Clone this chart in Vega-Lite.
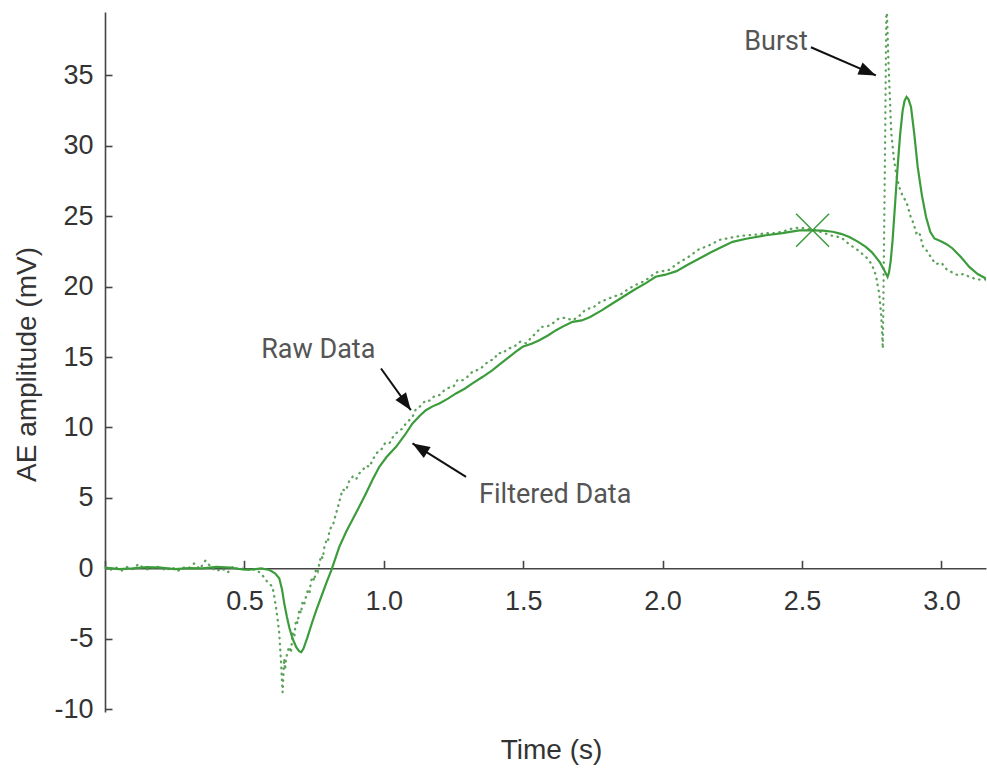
{
  "$schema": "https://vega.github.io/schema/vega-lite/v6.json",
  "width": 881,
  "height": 700,
  "autosize": {"type": "none"},
  "padding": {"left": 105, "top": 12, "right": 1, "bottom": 56},
  "config": {"view": {"stroke": null}, "axis": {"grid": false}},
  "datasets": {
    "filtered": [
      {"t":0.00,"v":0.05},{"t":0.05,"v":-0.05},{"t":0.10,"v":0.00},{"t":0.15,"v":0.08},{"t":0.20,"v":0.05},{"t":0.25,"v":-0.05},{"t":0.30,"v":0.02},{"t":0.35,"v":0.00},{"t":0.40,"v":0.10},{"t":0.45,"v":0.05},{"t":0.50,"v":-0.10},{"t":0.53,"v":-0.08},{"t":0.56,"v":0.00},{"t":0.59,"v":-0.12},{"t":0.61,"v":-0.35},{"t":0.625,"v":-0.7},{"t":0.635,"v":-1.5},{"t":0.643,"v":-2.5},{"t":0.652,"v":-3.4},{"t":0.661,"v":-4.2},{"t":0.673,"v":-5.0},{"t":0.686,"v":-5.6},{"t":0.697,"v":-5.9},{"t":0.704,"v":-5.95},{"t":0.712,"v":-5.7},{"t":0.726,"v":-4.9},{"t":0.742,"v":-3.9},{"t":0.758,"v":-2.96},{"t":0.776,"v":-2.0},{"t":0.794,"v":-1.04},{"t":0.812,"v":-0.12},{"t":0.840,"v":1.51},{"t":0.865,"v":2.6},{"t":0.887,"v":3.43},{"t":0.910,"v":4.3},{"t":0.936,"v":5.32},{"t":0.960,"v":6.3},{"t":0.984,"v":7.21},{"t":1.010,"v":7.9},{"t":1.044,"v":8.63},{"t":1.075,"v":9.45},{"t":1.103,"v":10.29},{"t":1.130,"v":10.85},{"t":1.151,"v":11.23},{"t":1.175,"v":11.5},{"t":1.199,"v":11.71},{"t":1.230,"v":12.05},{"t":1.259,"v":12.42},{"t":1.290,"v":12.75},{"t":1.318,"v":13.13},{"t":1.355,"v":13.6},{"t":1.390,"v":14.07},{"t":1.420,"v":14.55},{"t":1.450,"v":15.02},{"t":1.475,"v":15.4},{"t":1.498,"v":15.73},{"t":1.530,"v":15.95},{"t":1.558,"v":16.2},{"t":1.590,"v":16.55},{"t":1.618,"v":16.91},{"t":1.650,"v":17.25},{"t":1.677,"v":17.5},{"t":1.710,"v":17.6},{"t":1.740,"v":17.85},{"t":1.780,"v":18.3},{"t":1.820,"v":18.8},{"t":1.860,"v":19.3},{"t":1.900,"v":19.8},{"t":1.940,"v":20.25},{"t":1.975,"v":20.7},{"t":2.010,"v":20.85},{"t":2.050,"v":21.1},{"t":2.090,"v":21.55},{"t":2.132,"v":22.0},{"t":2.170,"v":22.4},{"t":2.210,"v":22.8},{"t":2.251,"v":23.18},{"t":2.300,"v":23.4},{"t":2.371,"v":23.65},{"t":2.430,"v":23.8},{"t":2.490,"v":24.0},{"t":2.538,"v":24.0},{"t":2.575,"v":23.98},{"t":2.610,"v":23.9},{"t":2.640,"v":23.75},{"t":2.670,"v":23.53},{"t":2.700,"v":23.2},{"t":2.729,"v":22.82},{"t":2.750,"v":22.45},{"t":2.765,"v":22.1},{"t":2.780,"v":21.7},{"t":2.795,"v":21.17},{"t":2.802,"v":20.9},{"t":2.807,"v":20.7},{"t":2.812,"v":21.0},{"t":2.818,"v":21.8},{"t":2.825,"v":23.3},{"t":2.834,"v":25.9},{"t":2.843,"v":28.5},{"t":2.852,"v":30.8},{"t":2.861,"v":32.5},{"t":2.868,"v":33.2},{"t":2.875,"v":33.47},{"t":2.882,"v":33.3},{"t":2.891,"v":32.76},{"t":2.903,"v":30.8},{"t":2.915,"v":28.5},{"t":2.930,"v":26.5},{"t":2.945,"v":24.95},{"t":2.960,"v":23.9},{"t":2.975,"v":23.42},{"t":3.000,"v":23.2},{"t":3.020,"v":23.0},{"t":3.040,"v":22.71},{"t":3.070,"v":22.1},{"t":3.100,"v":21.4},{"t":3.130,"v":20.9},{"t":3.160,"v":20.58}
    ],
    "raw": [
      {"t":0.00,"v":0.0},{"t":0.02,"v":-0.1},{"t":0.04,"v":0.05},{"t":0.06,"v":-0.15},{"t":0.08,"v":0.1},{"t":0.10,"v":-0.05},{"t":0.12,"v":0.3},{"t":0.14,"v":0.0},{"t":0.16,"v":-0.1},{"t":0.18,"v":0.15},{"t":0.20,"v":0.05},{"t":0.22,"v":-0.15},{"t":0.24,"v":0.1},{"t":0.26,"v":-0.2},{"t":0.28,"v":0.05},{"t":0.30,"v":0.0},{"t":0.32,"v":0.35},{"t":0.34,"v":-0.05},{"t":0.36,"v":0.55},{"t":0.38,"v":0.1},{"t":0.40,"v":-0.2},{"t":0.42,"v":0.0},{"t":0.44,"v":-0.3},{"t":0.46,"v":0.15},{"t":0.48,"v":-0.1},{"t":0.50,"v":0.0},{"t":0.52,"v":-0.15},{"t":0.54,"v":-0.05},{"t":0.555,"v":-0.3},{"t":0.565,"v":-0.5},{"t":0.58,"v":-0.9},{"t":0.595,"v":-1.2},{"t":0.601,"v":-1.3},{"t":0.607,"v":-2.0},{"t":0.613,"v":-2.7},{"t":0.619,"v":-3.6},{"t":0.625,"v":-4.6},{"t":0.628,"v":-5.6},{"t":0.631,"v":-6.5},{"t":0.634,"v":-7.7},{"t":0.637,"v":-8.8},{"t":0.640,"v":-7.5},{"t":0.643,"v":-6.4},{"t":0.646,"v":-7.2},{"t":0.649,"v":-6.5},{"t":0.655,"v":-5.9},{"t":0.661,"v":-5.56},{"t":0.667,"v":-6.0},{"t":0.673,"v":-4.6},{"t":0.679,"v":-4.9},{"t":0.685,"v":-3.67},{"t":0.691,"v":-3.9},{"t":0.697,"v":-2.9},{"t":0.703,"v":-3.2},{"t":0.709,"v":-2.3},{"t":0.715,"v":-2.5},{"t":0.721,"v":-2.0},{"t":0.727,"v":-1.6},{"t":0.733,"v":-1.8},{"t":0.739,"v":-0.9},{"t":0.745,"v":-0.6},{"t":0.751,"v":-0.9},{"t":0.757,"v":0.0},{"t":0.763,"v":-0.2},{"t":0.769,"v":0.35},{"t":0.775,"v":0.9},{"t":0.781,"v":0.7},{"t":0.787,"v":1.53},{"t":0.793,"v":1.9},{"t":0.799,"v":1.8},{"t":0.805,"v":2.7},{"t":0.811,"v":2.9},{"t":0.817,"v":3.0},{"t":0.823,"v":3.5},{"t":0.829,"v":3.9},{"t":0.840,"v":4.7},{"t":0.852,"v":5.6},{"t":0.864,"v":5.5},{"t":0.876,"v":6.2},{"t":0.888,"v":6.5},{"t":0.900,"v":6.3},{"t":0.912,"v":6.74},{"t":0.925,"v":7.0},{"t":0.937,"v":7.3},{"t":0.949,"v":7.2},{"t":0.960,"v":7.7},{"t":0.975,"v":8.2},{"t":0.990,"v":8.4},{"t":1.005,"v":8.9},{"t":1.020,"v":8.87},{"t":1.035,"v":9.4},{"t":1.050,"v":9.7},{"t":1.065,"v":9.9},{"t":1.080,"v":10.3},{"t":1.095,"v":10.6},{"t":1.103,"v":10.76},{"t":1.115,"v":11.3},{"t":1.130,"v":11.5},{"t":1.151,"v":11.94},{"t":1.165,"v":11.9},{"t":1.180,"v":12.2},{"t":1.199,"v":12.3},{"t":1.215,"v":12.6},{"t":1.230,"v":12.8},{"t":1.250,"v":12.9},{"t":1.265,"v":13.4},{"t":1.283,"v":13.36},{"t":1.300,"v":13.6},{"t":1.320,"v":14.0},{"t":1.340,"v":14.1},{"t":1.354,"v":14.3},{"t":1.375,"v":14.7},{"t":1.395,"v":14.85},{"t":1.410,"v":15.3},{"t":1.426,"v":15.26},{"t":1.445,"v":15.6},{"t":1.465,"v":15.7},{"t":1.490,"v":16.1},{"t":1.510,"v":15.97},{"t":1.530,"v":16.4},{"t":1.550,"v":16.8},{"t":1.566,"v":17.15},{"t":1.582,"v":17.15},{"t":1.600,"v":17.3},{"t":1.625,"v":17.7},{"t":1.650,"v":17.8},{"t":1.677,"v":17.6},{"t":1.700,"v":17.9},{"t":1.725,"v":18.4},{"t":1.750,"v":18.5},{"t":1.775,"v":18.9},{"t":1.800,"v":19.1},{"t":1.825,"v":19.3},{"t":1.850,"v":19.45},{"t":1.875,"v":19.8},{"t":1.900,"v":20.1},{"t":1.925,"v":20.3},{"t":1.950,"v":20.6},{"t":1.975,"v":21.0},{"t":2.000,"v":21.1},{"t":2.025,"v":21.2},{"t":2.050,"v":21.6},{"t":2.075,"v":21.9},{"t":2.100,"v":22.2},{"t":2.125,"v":22.6},{"t":2.150,"v":22.8},{"t":2.175,"v":23.0},{"t":2.200,"v":23.3},{"t":2.225,"v":23.4},{"t":2.250,"v":23.5},{"t":2.280,"v":23.6},{"t":2.310,"v":23.65},{"t":2.340,"v":23.7},{"t":2.370,"v":23.8},{"t":2.400,"v":23.8},{"t":2.430,"v":23.9},{"t":2.460,"v":24.1},{"t":2.490,"v":24.2},{"t":2.520,"v":24.1},{"t":2.550,"v":24.0},{"t":2.580,"v":23.8},{"t":2.610,"v":23.6},{"t":2.640,"v":23.5},{"t":2.670,"v":23.0},{"t":2.700,"v":22.6},{"t":2.730,"v":22.1},{"t":2.750,"v":21.6},{"t":2.765,"v":20.8},{"t":2.777,"v":19.5},{"t":2.784,"v":18.0},{"t":2.790,"v":15.6},{"t":2.797,"v":28.0},{"t":2.803,"v":40.5},{"t":2.810,"v":36.0},{"t":2.820,"v":31.0},{"t":2.830,"v":29.0},{"t":2.840,"v":27.8},{"t":2.850,"v":27.0},{"t":2.862,"v":26.4},{"t":2.875,"v":26.0},{"t":2.890,"v":24.95},{"t":2.900,"v":24.5},{"t":2.910,"v":23.8},{"t":2.920,"v":23.9},{"t":2.935,"v":22.8},{"t":2.950,"v":22.5},{"t":2.965,"v":22.0},{"t":2.980,"v":21.6},{"t":3.000,"v":21.7},{"t":3.020,"v":21.2},{"t":3.040,"v":21.0},{"t":3.060,"v":20.8},{"t":3.080,"v":20.9},{"t":3.100,"v":20.7},{"t":3.130,"v":20.5},{"t":3.160,"v":20.5}
    ],
    "marker": [{"t": 2.538, "v": 24.0}],
    "notes": [
      {"label": "Raw Data", "t": 0.765, "v": 14.93},
      {"label": "Filtered Data", "t": 1.615, "v": 4.63},
      {"label": "Burst", "t": 2.407, "v": 36.8}
    ],
    "arrows": [
      {"name": "raw", "t": 1.097, "v": 11.23, "t2": 0.990, "v2": 14.19},
      {"name": "filtered", "t": 1.103, "v": 8.87, "t2": 1.295, "v2": 6.5},
      {"name": "burst", "t": 2.765, "v": 35.0, "t2": 2.532, "v2": 37.0}
    ]
  },
  "encoding": {
    "x": {
      "field": "t", "type": "quantitative",
      "scale": {"domain": [0, 3.16], "nice": false, "zero": false},
      "axis": {
        "title": "Time (s)",
        "values": [0, 0.5, 1, 1.5, 2, 2.5, 3],
        "labelExpr": "datum.value === 0 ? '' : format(datum.value, '.1f')",
        "offset": -143.7,
        "tickSize": -8,
        "labelPadding": 28,
        "domainColor": "#444", "domainWidth": 1.6,
        "tickColor": "#444", "tickWidth": 1.6,
        "labelFont": "Liberation Sans", "labelFontSize": 27, "labelColor": "#333",
        "labelBaseline": "top",
        "titleFont": "Liberation Sans", "titleFontSize": 28, "titleFontWeight": "normal", "titleColor": "#333",
        "titleBaseline": "alphabetic", "titleY": 190, "titleX": 446
      }
    },
    "y": {
      "field": "v", "type": "quantitative",
      "scale": {"domain": [-10.2, 39.5], "nice": false, "zero": false},
      "axis": {
        "title": "AE amplitude (mV)",
        "values": [-10, -5, 0, 5, 10, 15, 20, 25, 30, 35],
        "labelExpr": "datum.value < 0 ? '-' + abs(datum.value) : '' + datum.value",
        "tickSize": -7,
        "labelPadding": 19,
        "domainColor": "#444", "domainWidth": 1.6,
        "tickColor": "#444", "tickWidth": 1.6,
        "labelFont": "Liberation Sans", "labelFontSize": 27, "labelColor": "#333",
        "titleFont": "Liberation Sans", "titleFontSize": 28, "titleFontWeight": "normal", "titleColor": "#333",
        "titleBaseline": "alphabetic", "titleX": -70, "titleY": 352
      }
    }
  },
  "layer": [
    {
      "data": {"name": "raw"},
      "mark": {"type": "line", "clip": true, "color": "#4a984a", "strokeWidth": 2.3, "strokeDash": [0.5, 5.5], "strokeCap": "round", "opacity": 0.9}
    },
    {
      "data": {"name": "filtered"},
      "mark": {"type": "line", "clip": true, "color": "#3c9c3c", "strokeWidth": 2.2}
    },
    {
      "data": {"name": "marker"},
      "mark": {"type": "point", "shape": "M-1,-1L1,1M-1,1L1,-1", "size": 1089, "filled": false, "color": "#3c9c3c", "strokeWidth": 1.5, "opacity": 1}
    },
    {
      "data": {"name": "arrows"},
      "mark": {"type": "rule", "color": "#111", "strokeWidth": 2},
      "encoding": {"x2": {"field": "t2"}, "y2": {"field": "v2"}}
    },
    {
      "data": {"name": "arrows"},
      "transform": [{"filter": "datum.name === 'raw'"}],
      "mark": {"type": "point", "shape": "M0,0L-0.75,2L0.75,2Z", "size": 300, "filled": true, "color": "#111", "opacity": 1, "angle": 144.3}
    },
    {
      "data": {"name": "arrows"},
      "transform": [{"filter": "datum.name === 'filtered'"}],
      "mark": {"type": "point", "shape": "M0,0L-0.75,2L0.75,2Z", "size": 300, "filled": true, "color": "#111", "opacity": 1, "angle": 302}
    },
    {
      "data": {"name": "arrows"},
      "transform": [{"filter": "datum.name === 'burst'"}],
      "mark": {"type": "point", "shape": "M0,0L-0.75,2L0.75,2Z", "size": 300, "filled": true, "color": "#111", "opacity": 1, "angle": 113.5}
    },
    {
      "data": {"name": "notes"},
      "mark": {"type": "text", "font": "Roboto", "fontSize": 27, "color": "#555", "align": "center", "baseline": "alphabetic"},
      "encoding": {"text": {"field": "label"}}
    }
  ]
}
